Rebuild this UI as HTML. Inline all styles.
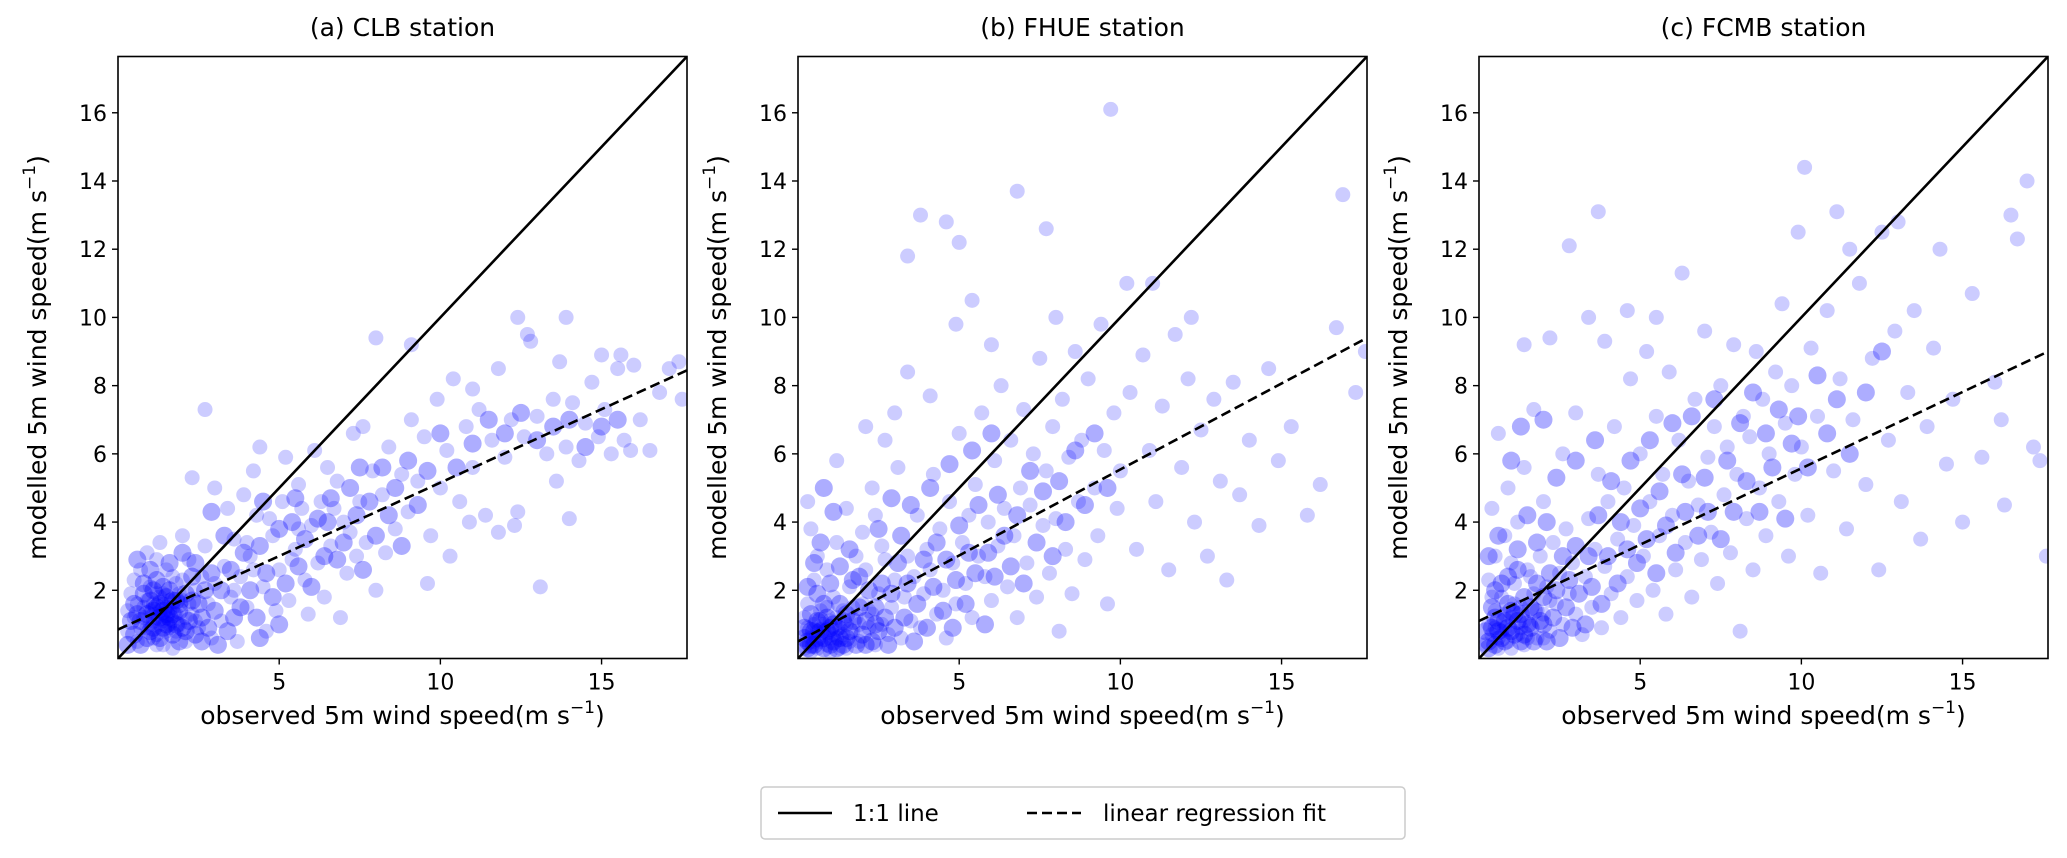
<!DOCTYPE html>
<html><head><meta charset="utf-8"><style>
body{margin:0;background:#fff;}
svg{display:block;font-family:"DejaVu Sans","Liberation Sans",sans-serif;}
</style></head><body>
<svg id="chart" width="2067" height="858" viewBox="0 0 2067 858"></svg>
<script>
const axisMax = 17.65;
const yTicks = [2,4,6,8,10,12,14,16];
const xTicks = [5,10,15];
const panelTitles = ["(a) CLB station","(b) FHUE station","(c) FCMB station"];
const regA = [0.85, 8.45];
const regB = [0.5, 9.4];
const regC = [1.1, 9.0];
const clbPoints = [[0.3,0.8],[0.5,1.2],[0.6,0.5],[0.8,1.5],[0.9,0.9],[1.0,2.1],[1.1,1.3],[1.2,0.7],[1.3,1.8],[1.4,1.1],[1.5,2.6],[1.6,0.9],[1.7,1.5],[1.8,2.2],[1.9,1.0],[2.0,1.7],[2.1,0.5],[2.2,2.9],[2.3,1.3],[2.4,2.0],[0.4,1.9],[0.7,2.6],[0.9,3.1],[1.2,2.9],[1.4,0.4],[1.7,0.3],[1.1,1.6],[1.3,1.4],[1.5,1.2],[1.6,1.7],[1.8,1.3],[1.0,1.0],[0.8,1.2],[1.2,1.9],[1.4,1.6],[1.6,1.4],[1.9,1.9],[2.1,1.2],[0.6,1.6],[1.1,0.6],[1.5,0.8],[2.5,0.9],[2.6,2.4],[2.8,1.6],[3.0,2.2],[2.7,3.3],[3.2,1.1],[3.3,2.7],[2.9,0.6],[1.3,3.4],[0.5,2.3],[0.3,1.4],[1.7,2.4],[2.0,3.6],[1.2,1.2],[1.4,1.9],[1.0,1.4],[1.6,1.0],[1.3,1.0],[1.5,1.5],[1.1,1.1],[1.4,1.3],[1.7,1.1],[0.9,1.7],[1.8,0.8],[2.2,1.6],[1.2,0.4],[0.7,0.9],[2.0,2.3],[2.4,1.1],
[3.5,1.8],[3.6,3.5],[3.8,2.4],[4.0,1.5],[4.1,3.0],[4.3,4.2],[4.5,2.1],[4.6,0.8],[4.8,3.6],[5.0,2.6],[5.1,4.6],[5.3,1.7],[5.5,3.2],[5.6,5.1],[5.8,2.3],[6.0,3.9],[6.1,6.1],[6.3,4.6],[6.4,1.8],[6.6,3.3],[6.8,5.2],[7.0,4.0],[7.1,2.5],[7.3,6.6],[7.5,4.6],[7.7,3.4],[7.9,5.5],[8.0,2.0],[8.2,4.8],[8.4,6.2],[8.6,3.8],[8.8,5.4],[9.0,4.3],[9.1,7.0],[4.2,5.5],[3.9,4.8],[3.4,4.4],[5.9,1.3],[6.9,1.2],[2.7,7.3],[3.0,5.0],[4.4,6.2],[5.2,5.9],[4.7,4.1],[5.7,4.4],[6.5,5.6],[7.2,3.7],[6.2,2.8],[3.7,0.5],[4.9,1.4],[2.3,5.3],[7.6,6.8],[8.3,3.1],[3.6,2.0],[4.2,2.6],[5.4,2.9],[6.7,4.4],[7.4,3.0],[5.6,3.8],[4.0,3.4],
[9.3,5.2],[9.5,6.5],[9.7,3.6],[9.9,7.6],[10.0,5.0],[10.2,6.1],[10.4,8.2],[10.6,4.6],[10.8,6.8],[11.0,5.6],[11.2,7.3],[11.4,4.2],[11.6,6.4],[11.8,8.5],[12.0,5.9],[12.2,7.0],[12.4,4.3],[12.6,6.5],[12.8,9.3],[13.0,7.1],[13.1,2.1],[13.3,6.0],[13.5,7.6],[13.7,8.7],[13.9,6.2],[14.1,7.5],[14.3,5.8],[14.5,6.9],[14.7,8.1],[14.9,6.5],[15.1,7.3],[15.3,6.0],[15.5,8.5],[15.7,6.4],[15.9,6.1],[16.2,7.0],[16.5,6.1],[16.8,7.8],[17.1,8.5],[17.4,8.7],[17.5,7.6],[8.0,9.4],[9.1,9.2],[12.4,10.0],[13.9,10.0],[12.7,9.5],[15.0,8.9],[15.6,8.9],[11.0,7.9],[10.3,3.0],[9.6,2.2],[11.8,3.7],[12.3,3.9],[16.0,8.6],[14.0,4.1],[13.6,5.2],[10.9,4.0]];
const clbCore = [[0.3,0.4],[0.4,1.1],[0.5,0.7],[0.6,1.3],[0.7,0.4],[0.8,1.9],[0.9,0.6],[1.0,1.7],[1.1,0.9],[1.2,2.3],[1.3,0.6],[1.4,2.1],[1.5,1.0],[1.6,2.0],[1.7,0.7],[1.8,1.7],[1.9,1.4],[2.0,0.9],[2.1,1.9],[2.2,1.1],[2.3,2.4],[2.4,0.7],[2.5,1.6],[2.6,1.2],[2.7,2.0],[2.8,0.9],[2.9,2.5],[3.0,1.4],[3.1,0.4],[3.2,2.0],[0.5,1.6],[0.7,1.1],[0.9,1.3],[1.1,2.0],[1.3,1.2],[1.5,1.8],[1.7,1.3],[1.9,1.6],[2.1,0.8],[2.3,1.7],[1.0,0.8],[1.2,1.5],[1.4,0.9],[1.6,1.2],[1.8,1.0],[1.3,1.6],[1.5,1.3],[1.7,1.7],[1.1,1.4],[1.4,1.4],[0.8,2.2],[1.0,2.6],[1.6,2.8],[2.4,2.8],[2.0,3.1],[0.6,2.9],[1.9,0.5],[2.6,0.5],[3.4,0.8],[3.5,2.6],[3.8,1.5],[3.9,3.1],[4.1,2.0],[4.3,1.2],[4.4,3.3],[4.6,2.5],[4.8,1.8],[5.0,3.8],[5.2,2.2],[5.4,4.0],[5.6,2.7],[5.8,3.5],[6.0,2.1],[6.2,4.1],[6.4,3.0],[6.6,4.7],[6.8,2.9],[7.0,3.4],[7.2,5.0],[7.4,4.2],[7.6,2.6],[7.8,4.6],[8.0,3.6],[8.2,5.6],[8.4,4.2],[8.6,5.0],[8.8,3.3],[9.0,5.8],[9.3,4.5],[9.6,5.5],[10.0,6.6],[10.5,5.6],[11.0,6.3],[11.5,7.0],[12.0,6.6],[12.5,7.2],[13.0,6.4],[13.5,6.8],[14.0,7.0],[14.5,6.2],[15.0,6.8],[15.5,7.0],[4.5,4.6],[5.5,4.7],[6.5,4.0],[7.5,5.6],[3.3,3.6],[2.9,4.3],[3.6,1.2],[4.4,0.6],[5.0,1.0]];
const fhuePoints = [[0.2,0.3],[0.4,0.6],[0.5,1.0],[0.6,0.3],[0.7,1.4],[0.8,0.8],[0.9,0.4],[1.0,1.1],[1.1,1.8],[1.2,0.6],[1.3,0.9],[1.4,1.4],[1.5,0.3],[1.6,2.1],[1.7,0.8],[1.8,1.2],[1.9,0.5],[2.0,1.6],[2.1,2.6],[2.2,0.9],[2.3,1.3],[2.4,0.4],[2.5,1.9],[2.6,1.0],[2.7,2.9],[2.8,0.7],[2.9,1.5],[3.0,2.3],[0.3,1.6],[0.5,2.3],[0.6,3.0],[0.9,2.6],[1.2,3.4],[1.0,0.2],[0.4,0.2],[0.7,0.5],[1.1,0.7],[1.3,0.3],[0.8,1.0],[1.5,1.0],[1.7,1.5],[0.6,0.8],[1.0,0.6],[1.4,0.7],[0.3,0.9],[1.9,1.0],[2.2,1.4],[0.2,1.2],[0.5,0.5],[1.2,1.2],[0.9,1.5],[1.6,0.5],[0.4,3.8],[0.3,4.6],[1.5,4.4],[2.0,3.7],[2.3,5.0],[1.8,3.0],[2.6,3.3],
[3.2,0.6],[3.3,1.8],[3.4,3.0],[3.5,1.1],[3.6,2.4],[3.7,4.2],[3.8,0.9],[3.9,1.9],[4.0,3.2],[4.1,2.6],[4.2,5.4],[4.3,1.3],[4.4,3.8],[4.5,2.0],[4.6,0.6],[4.7,4.6],[4.8,2.8],[4.9,1.6],[5.0,6.6],[5.1,3.4],[5.2,2.2],[5.3,4.2],[5.4,1.2],[5.5,5.1],[5.6,3.0],[5.7,7.2],[5.8,2.4],[5.9,4.0],[6.0,1.7],[6.1,5.8],[6.2,3.3],[6.3,8.0],[6.4,4.4],[6.5,2.1],[6.6,6.4],[6.7,3.6],[6.8,1.2],[6.9,5.0],[7.0,7.3],[7.1,2.8],[7.2,4.5],[7.3,6.0],[7.4,1.8],[7.5,8.8],[7.6,3.9],[7.7,5.5],[7.8,2.5],[7.9,6.8],[8.0,4.1],[8.1,0.8],[8.2,7.6],[8.3,3.2],[8.4,5.9],[8.5,1.9],[8.6,9.0],[8.7,4.6],[8.8,6.4],[8.9,2.9],[9.0,8.2],[9.2,5.0],[9.3,3.6],[9.4,9.8],[9.5,6.1],[9.6,1.6],[9.7,16.1],[9.8,7.2],[9.9,4.4],[3.4,8.4],[2.7,6.4],[3.0,7.2],[2.1,6.8],[3.8,13.0],[4.6,12.8],[6.8,13.7],[3.4,11.8],[5.0,12.2],[7.7,12.6],[4.9,9.8],[5.4,10.5],[6.0,9.2],[8.0,10.0],[4.1,7.7],[3.1,5.6],[2.4,4.2],[1.2,5.8],
[10.0,5.5],[10.2,11.0],[10.3,7.8],[10.5,3.2],[10.7,8.9],[10.9,6.1],[11.1,4.6],[11.3,7.4],[11.5,2.6],[11.7,9.5],[11.9,5.6],[12.1,8.2],[12.3,4.0],[12.5,6.7],[12.7,3.0],[12.9,7.6],[13.1,5.2],[13.3,2.3],[13.5,8.1],[13.7,4.8],[14.0,6.4],[14.3,3.9],[14.6,8.5],[14.9,5.8],[15.3,6.8],[15.8,4.2],[16.2,5.1],[16.7,9.7],[16.9,13.6],[17.3,7.8],[17.6,9.0],[11.0,11.0],[12.2,10.0]];
const fhueCore = [[0.2,0.6],[0.3,0.3],[0.4,1.3],[0.5,0.4],[0.6,1.9],[0.7,0.8],[0.8,0.3],[0.9,1.2],[1.0,0.4],[1.1,1.0],[1.2,0.3],[1.3,1.6],[1.4,0.4],[1.5,1.3],[1.6,0.8],[1.7,2.3],[1.8,0.4],[1.9,1.5],[2.0,0.7],[2.1,1.1],[2.2,2.0],[2.3,0.5],[2.4,1.5],[2.5,0.8],[2.6,2.2],[2.7,1.2],[2.8,0.4],[2.9,1.9],[3.0,0.9],[3.1,2.8],[0.3,2.1],[0.5,2.8],[0.7,3.4],[1.0,2.2],[1.3,2.7],[1.6,3.2],[1.9,2.4],[0.4,0.8],[0.6,0.6],[0.8,0.6],[1.0,0.9],[1.2,0.9],[1.4,1.1],[0.3,0.5],[0.5,0.8],[0.7,1.1],[0.9,0.8],[1.1,0.5],[1.3,0.6],[1.5,0.6],[0.2,0.9],[0.4,0.4],[0.6,1.1],[0.8,1.6],[1.7,1.1],[2.1,0.4],[2.4,1.0],[3.3,1.2],[3.4,2.2],[3.6,0.5],[3.7,1.6],[3.9,2.9],[4.0,0.9],[4.2,2.1],[4.3,3.4],[4.5,1.4],[4.6,2.9],[4.8,0.9],[4.9,2.3],[5.0,3.9],[5.2,1.6],[5.3,3.1],[5.5,2.5],[5.6,4.5],[5.8,1.0],[5.9,3.1],[6.1,2.4],[6.2,4.8],[6.4,3.6],[6.6,2.7],[6.8,4.2],[7.0,2.2],[7.2,5.5],[7.4,3.4],[7.6,4.9],[7.9,3.0],[8.1,5.2],[8.3,4.0],[8.6,6.1],[8.9,4.5],[9.2,6.6],[9.6,5.0],[3.5,4.5],[4.1,5.0],[4.7,5.7],[5.4,6.1],[6.0,6.6],[2.5,3.8],[2.9,4.7],[3.2,3.6],[1.1,4.3],[0.8,5.0]];
const fcmbPoints = [[0.2,0.4],[0.3,1.0],[0.4,0.7],[0.5,1.4],[0.6,0.3],[0.7,1.8],[0.8,0.9],[0.9,0.5],[1.0,1.2],[1.1,2.2],[1.2,0.7],[1.3,1.5],[1.4,0.4],[1.5,2.6],[1.6,1.0],[1.7,1.9],[1.8,0.6],[1.9,3.0],[2.0,1.3],[2.1,2.1],[2.2,0.8],[2.3,3.4],[2.4,1.6],[2.5,2.5],[2.6,1.0],[2.7,3.8],[2.8,1.9],[2.9,2.8],[3.0,1.3],[0.3,2.3],[0.5,3.0],[0.8,3.6],[0.4,4.4],[0.9,5.0],[1.2,4.0],[0.6,0.6],[1.0,0.3],[0.8,1.3],[1.3,0.9],[0.5,0.9],[1.1,1.6],[1.5,0.6],[1.8,1.4],[0.7,0.8],[1.4,1.1],[2.0,0.6],[0.4,1.8],[1.6,2.4],[2.2,1.7],[1.0,2.8],[0.6,6.6],[1.4,5.6],[2.0,4.6],[1.7,7.3],[2.2,9.4],[2.8,12.1],[3.4,10.0],[3.7,13.1],
[3.2,0.7],[3.3,2.4],[3.4,4.1],[3.5,1.5],[3.6,3.2],[3.7,5.4],[3.8,0.9],[3.9,2.7],[4.0,4.6],[4.1,1.9],[4.2,6.8],[4.3,3.5],[4.4,1.2],[4.5,5.0],[4.6,2.4],[4.7,8.2],[4.8,3.9],[4.9,1.7],[5.0,6.0],[5.1,3.0],[5.2,9.0],[5.3,4.6],[5.4,2.0],[5.5,7.1],[5.6,3.6],[5.7,5.4],[5.8,1.3],[5.9,8.4],[6.0,4.2],[6.1,2.6],[6.2,6.4],[6.3,11.3],[6.4,3.4],[6.5,5.2],[6.6,1.8],[6.7,7.6],[6.8,4.5],[6.9,2.9],[7.0,9.6],[7.1,5.9],[7.2,3.7],[7.3,6.8],[7.4,2.2],[7.5,8.0],[7.6,4.8],[7.7,6.2],[7.8,3.1],[7.9,9.2],[8.0,5.4],[8.1,0.8],[8.2,7.1],[8.3,4.1],[8.4,6.5],[8.5,2.6],[8.6,9.0],[8.7,5.0],[8.8,7.6],[8.9,3.6],[9.0,6.0],[9.2,8.4],[9.3,4.6],[9.4,10.4],[9.5,6.9],[9.6,3.0],[9.7,8.0],[9.8,5.4],[9.9,12.5],[2.6,6.0],[3.0,7.2],[3.9,9.3],[4.6,10.2],[5.5,10.0],[1.4,9.2],
[10.0,6.2],[10.1,14.4],[10.2,4.2],[10.3,9.1],[10.5,7.1],[10.6,2.5],[10.8,10.2],[11.0,5.5],[11.1,13.1],[11.2,8.2],[11.4,3.8],[11.6,7.0],[11.8,11.0],[12.0,5.1],[12.2,8.8],[12.4,2.6],[12.5,12.5],[12.7,6.4],[12.9,9.6],[13.1,4.6],[13.3,7.8],[13.5,10.2],[13.7,3.5],[13.9,6.8],[14.1,9.1],[14.3,12.0],[14.5,5.7],[14.7,7.6],[15.0,4.0],[15.3,10.7],[15.6,5.9],[16.0,8.1],[16.3,4.5],[16.5,13.0],[16.7,12.3],[17.0,14.0],[17.2,6.2],[17.4,5.8],[17.6,3.0],[13.0,12.8],[11.5,12.0],[16.2,7.0]];
const fcmbCore = [[0.2,0.8],[0.3,0.5],[0.4,1.5],[0.5,0.4],[0.6,1.1],[0.7,2.2],[0.8,0.5],[0.9,1.6],[1.0,0.8],[1.1,1.3],[1.2,2.6],[1.3,0.5],[1.4,1.8],[1.5,1.0],[1.6,1.5],[1.7,0.5],[1.8,2.2],[1.9,1.1],[2.0,1.8],[2.1,0.5],[2.2,2.5],[2.3,1.2],[2.4,2.0],[2.5,0.6],[2.6,3.0],[2.7,1.5],[2.8,2.3],[2.9,0.9],[3.0,3.3],[3.1,1.9],[0.3,3.0],[0.6,3.6],[0.9,2.4],[1.2,3.2],[1.5,4.2],[1.8,3.4],[2.1,4.0],[0.4,0.9],[0.6,0.8],[0.8,1.1],[1.0,1.4],[1.2,1.1],[0.5,1.2],[0.7,0.6],[0.9,0.9],[1.1,0.7],[1.3,1.3],[0.3,0.3],[0.5,2.0],[1.4,0.7],[1.6,0.9],[1.7,1.4],[2.0,1.0],[3.3,1.0],[3.4,3.0],[3.5,2.1],[3.7,4.2],[3.8,1.6],[4.0,3.0],[4.1,5.2],[4.3,2.2],[4.4,4.0],[4.6,3.2],[4.7,5.8],[4.9,2.8],[5.0,4.4],[5.2,3.5],[5.3,6.4],[5.5,2.5],[5.6,4.9],[5.8,3.9],[6.0,6.9],[6.1,3.1],[6.3,5.4],[6.4,4.3],[6.6,7.1],[6.8,3.6],[7.0,5.3],[7.1,4.3],[7.3,7.6],[7.5,3.5],[7.7,5.8],[7.9,4.3],[8.1,6.9],[8.3,5.2],[8.5,7.8],[8.7,4.3],[8.9,6.6],[9.1,5.6],[9.3,7.3],[9.5,4.1],[9.7,6.3],[9.9,7.1],[10.2,5.6],[10.5,8.3],[10.8,6.6],[11.1,7.6],[11.5,6.0],[12.0,7.8],[12.5,9.0],[2.4,5.3],[3.0,5.8],[3.6,6.4],[1.0,5.8],[2.0,7.0],[1.3,6.8]];

const NS = "http://www.w3.org/2000/svg";
const svg = document.getElementById('chart');
function mk(tag, attrs, parent){const e=document.createElementNS(NS,tag);for(const k in attrs)e.setAttribute(k,attrs[k]);(parent||svg).appendChild(e);return e;}

const panelLefts = [118, 798, 1479];
const panelW = 569, axTop = 56.5, axBottom = 658.5;
const sparse = [clbPoints, fhuePoints, fcmbPoints];
const cores = [clbCore, fhueCore, fcmbCore];
const regs = [regA, regB, regC];
const slugs = ["clb","fhue","fcmb"];

panelLefts.forEach((L, i) => {
  const g = mk('g', {});
  
  
  const xs = v => L + v / axisMax * panelW;
  const ys = v => axBottom - v / axisMax * (axBottom - axTop);
  const clipId = 'clip' + i;
  const cp = mk('clipPath', {id: clipId}, g);
  mk('rect', {x: L, y: axTop, width: panelW, height: axBottom - axTop}, cp);
  const pts = mk('g', {'clip-path': 'url(#' + clipId + ')'}, g);
  
  
  sparse[i].forEach(p => {
    const c = mk('circle', {cx: xs(p[0]), cy: ys(p[1]), r: 7.5, fill: '#0000ff', 'fill-opacity': 0.2}, pts);
    
    
  });
  cores[i].forEach(p => {
    const c = mk('circle', {cx: xs(p[0]), cy: ys(p[1]), r: 9, fill: '#0000ff', 'fill-opacity': 0.32}, pts);
    
    
  });
  const one = mk('line', {x1: xs(0), y1: ys(0), x2: xs(axisMax), y2: ys(axisMax), stroke: '#000', 'stroke-width': 2.6, 'clip-path': 'url(#' + clipId + ')'}, g);
  
  
  const r = regs[i];
  const rl = mk('line', {x1: xs(0), y1: ys(r[0]), x2: xs(axisMax), y2: ys(r[1]), stroke: '#000', 'stroke-width': 2.6, 'stroke-dasharray': '10,5', 'clip-path': 'url(#' + clipId + ')'}, g);
  
  
  const frame = mk('rect', {x: L, y: axTop, width: panelW, height: axBottom - axTop, fill: 'none', stroke: '#000', 'stroke-width': 1.6}, g);
  
  
  yTicks.forEach(t => {
    mk('line', {x1: L - 6, x2: L, y1: ys(t), y2: ys(t), stroke: '#000', 'stroke-width': 1.4}, g);
    const tx = mk('text', {x: L - 11, y: ys(t) + 8, 'text-anchor': 'end', 'font-size': 22}, g);
    tx.textContent = t;
    
    
  });
  xTicks.forEach(t => {
    mk('line', {x1: xs(t), x2: xs(t), y1: axBottom, y2: axBottom + 6, stroke: '#000', 'stroke-width': 1.4}, g);
    const tx = mk('text', {x: xs(t), y: axBottom + 31, 'text-anchor': 'middle', 'font-size': 22}, g);
    tx.textContent = t;
    
    
  });
  const title = mk('text', {x: L + panelW / 2, y: 36, 'text-anchor': 'middle', 'font-size': 25}, g);
  title.textContent = panelTitles[i];
  
  
  const xl = mk('text', {x: L + panelW / 2, y: 724, 'text-anchor': 'middle', 'font-size': 25}, g);
  xl.innerHTML = 'observed 5m wind speed(m  s<tspan dy="-11" font-size="17">−1</tspan><tspan dy="11">)</tspan>';
  
  
  const yl = mk('text', {x: 0, y: 0, 'text-anchor': 'middle', 'font-size': 25, transform: 'translate(' + (L - 72) + ',' + ((axTop + axBottom) / 2) + ') rotate(-90)'}, g);
  yl.innerHTML = 'modelled 5m wind speed(m  s<tspan dy="-11" font-size="17">−1</tspan><tspan dy="11">)</tspan>';
  
  
});

const leg = mk('g', {});


mk('rect', {x: 761, y: 787, width: 644, height: 52, rx: 4, fill: '#fff', stroke: '#ccc', 'stroke-width': 1.5}, leg);
const e1 = mk('line', {x1: 778, x2: 832, y1: 813, y2: 813, stroke: '#000', 'stroke-width': 2.6}, leg);


const t1 = mk('text', {x: 853, y: 821, 'font-size': 23}, leg);
t1.textContent = '1:1 line';


const e2 = mk('line', {x1: 1027, x2: 1081, y1: 813, y2: 813, stroke: '#000', 'stroke-width': 2.6, 'stroke-dasharray': '10,5'}, leg);


const t2 = mk('text', {x: 1103, y: 821, 'font-size': 23}, leg);
t2.textContent = 'linear regression fit';


</script>
</body></html>
